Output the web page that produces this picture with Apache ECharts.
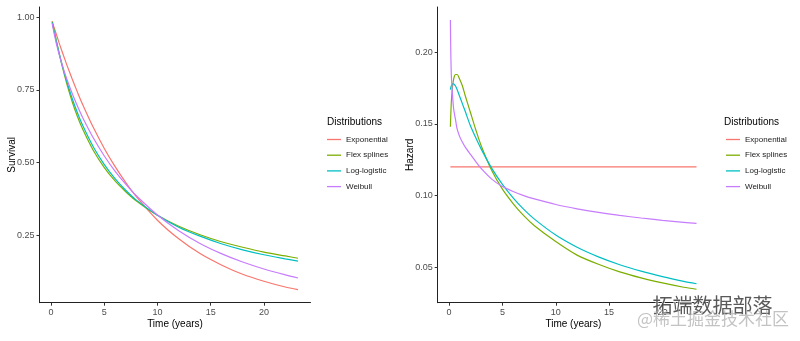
<!DOCTYPE html>
<html>
<head>
<meta charset="utf-8">
<script src="https://cdn.jsdelivr.net/npm/echarts@6/dist/echarts.min.js"></script>
<style>html,body{margin:0;padding:0;background:#fff}#c{width:800px;height:341px}</style>
</head>
<body>
<div id="c"></div>
<script>
const seriesNames = ['Exponential', 'Flex splines', 'Log-logistic', 'Weibull'];
const times = [0.12,0.16,0.2,0.25,0.35,0.42,0.5,0.6,0.75,1,1.25,1.5,2,2.5,3,4,5,6,7,8,10,12,14,16,18,20,22,23.2];
const survExp  = [0.986,0.981,0.976,0.970,0.959,0.951,0.942,0.931,0.914,0.887,0.861,0.835,0.787,0.741,0.698,0.619,0.549,0.487,0.432,0.383,0.301,0.237,0.186,0.147,0.115,0.091,0.071,0.062];
const survFlex = [0.985,0.978,0.971,0.963,0.947,0.935,0.921,0.905,0.880,0.840,0.804,0.770,0.709,0.657,0.613,0.540,0.483,0.437,0.400,0.368,0.318,0.280,0.251,0.227,0.208,0.191,0.178,0.170];
const survLogl = [0.982,0.975,0.968,0.960,0.943,0.931,0.918,0.903,0.880,0.843,0.809,0.778,0.720,0.670,0.626,0.552,0.493,0.445,0.405,0.371,0.318,0.277,0.246,0.220,0.199,0.182,0.168,0.160];
const survWeib = [0.979,0.971,0.963,0.954,0.936,0.924,0.911,0.896,0.875,0.843,0.813,0.786,0.737,0.693,0.653,0.583,0.523,0.471,0.426,0.386,0.319,0.265,0.221,0.186,0.157,0.133,0.113,0.102];
const hazExp  = [0.12,0.12,0.12,0.12,0.12,0.12,0.12,0.12,0.12,0.12,0.12,0.12,0.12,0.12,0.12,0.12,0.12,0.12,0.12,0.12,0.12,0.12,0.12,0.12,0.12,0.12,0.12,0.12];
const hazFlex = [0.148,0.157,0.164,0.170,0.178,0.181,0.1835,0.1845,0.1845,0.181,0.1765,0.170,0.158,0.146,0.135,0.1175,0.1045,0.0945,0.086,0.079,0.068,0.0585,0.0521,0.0468,0.0426,0.0391,0.0361,0.0347];
const hazLogl = [0.174,0.1755,0.1765,0.1772,0.178,0.178,0.1775,0.1765,0.174,0.169,0.164,0.159,0.1487,0.1403,0.1326,0.1190,0.1078,0.0984,0.0904,0.0836,0.0725,0.0640,0.0573,0.0518,0.0473,0.0435,0.0402,0.0385];
const hazWeib = [0.2225,0.199,0.186,0.178,0.167,0.161,0.157,0.153,0.1465,0.141,0.1372,0.134,0.1288,0.1237,0.119,0.1115,0.1063,0.1029,0.1000,0.0977,0.0938,0.0908,0.0883,0.0862,0.0844,0.0828,0.0814,0.0806];
const xTicks = [0, 5, 10, 15, 20];
const survTicks = [0.25, 0.50, 0.75, 1.00];
const hazTicks = [0.05, 0.10, 0.15, 0.20];

const colors = ['#F8766D', '#7CAE00', '#00BFC4', '#C77CFF'];
const FONT = 'Liberation Sans, Arial, sans-serif';
const pairs = (vals) => times.map((t, i) => [t, vals[i]]);

function xAxisCfg(idx) {
  return {
    type: 'value', gridIndex: idx, min: -1.07, max: 24.37,
    name: 'Time (years)', nameLocation: 'middle', nameGap: 17, nameMoveOverlap: false,
    nameTextStyle: { fontFamily: FONT, fontSize: 10, color: '#000' },
    axisLine: { show: true, onZero: false, lineStyle: { color: '#222', width: 1 } },
    axisTick: { show: true, length: 3, customValues: xTicks, lineStyle: { color: '#333' } },
    axisLabel: { customValues: xTicks, margin: 5, fontFamily: FONT, fontSize: 9, color: '#4d4d4d' },
    splitLine: { show: false }
  };
}
function yAxisCfg(idx, name, min, max, ticks) {
  return {
    type: 'value', gridIndex: idx, min: min, max: max,
    name: name, nameLocation: 'middle', nameGap: 22, nameMoveOverlap: false,
    nameTextStyle: { fontFamily: FONT, fontSize: 10, color: '#000' },
    axisLine: { show: true, onZero: false, lineStyle: { color: '#222', width: 1 } },
    axisTick: { show: true, length: 3, customValues: ticks, lineStyle: { color: '#333' } },
    axisLabel: { customValues: ticks, margin: 5, fontFamily: FONT, fontSize: 9, color: '#4d4d4d',
      formatter: v => v.toFixed(2) },
    splitLine: { show: false }
  };
}
function lineSeries(name, data, idx, ci) {
  return {
    type: 'line', name: name, xAxisIndex: idx, yAxisIndex: idx, data: pairs(data),
    smooth: 0.25, symbol: 'none', silent: true,
    lineStyle: { color: colors[ci], width: 1.2 }, itemStyle: { color: colors[ci] }
  };
}
function legendCfg(left) {
  return {
    data: seriesNames, orient: 'vertical', left: left, top: 134.5, padding: 0,
    icon: 'rect', itemWidth: 14, itemHeight: 1.3, itemGap: 5.7, selectedMode: false,
    textStyle: { fontFamily: FONT, fontSize: 8, color: '#1a1a1a', lineHeight: 10 }
  };
}

const chart = echarts.init(document.getElementById('c'), null, { renderer: 'canvas' });
chart.setOption({
  animation: false,
  color: colors,
  grid: [
    { left: 39.5, top: 7, width: 271, height: 295.7 },
    { left: 437.7, top: 7, width: 271.3, height: 295.7 }
  ],
  xAxis: [xAxisCfg(0), xAxisCfg(1)],
  yAxis: [
    yAxisCfg(0, 'Survival', 0.017, 1.035, survTicks),
    yAxisCfg(1, 'Hazard', 0.0253, 0.2316, hazTicks)
  ],
  legend: [legendCfg(327), legendCfg(726)],
  graphic: [
    { type: 'text', left: 327, top: 117.5, style: { text: 'Distributions', fontFamily: FONT, fontSize: 10, fill: '#000' } },
    { type: 'text', left: 724, top: 117.5, style: { text: 'Distributions', fontFamily: FONT, fontSize: 10, fill: '#000' } },
    { type: 'text', left: 652, top: 295, z: 100, style: { text: '拓端数据部落', fontFamily: 'Noto Sans CJK SC', fontSize: 20, fill: 'rgba(60,60,60,0.85)', stroke: '#fff', lineWidth: 1 } },
    { type: 'text', left: 637, top: 310, z: 100, style: { text: '@稀土掘金技术社区', fontFamily: 'Noto Sans CJK SC', fontSize: 17, fill: 'rgba(170,170,170,0.7)' } }
  ],
  series: [
    lineSeries('Exponential', survExp, 0, 0),
    lineSeries('Flex splines', survFlex, 0, 1),
    lineSeries('Log-logistic', survLogl, 0, 2),
    lineSeries('Weibull', survWeib, 0, 3),
    lineSeries('Exponential', hazExp, 1, 0),
    lineSeries('Flex splines', hazFlex, 1, 1),
    lineSeries('Log-logistic', hazLogl, 1, 2),
    lineSeries('Weibull', hazWeib, 1, 3)
  ]
});
</script>
</body>
</html>
